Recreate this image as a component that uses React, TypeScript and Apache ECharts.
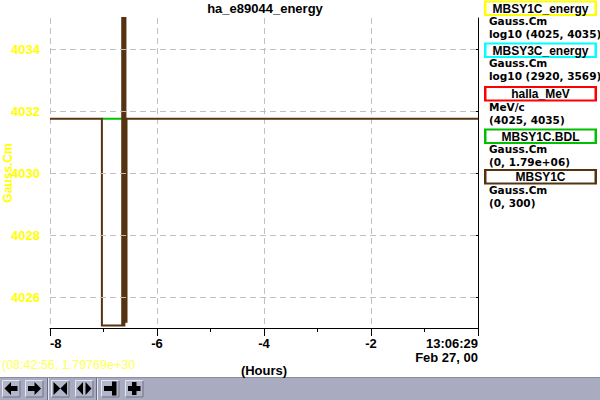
import { useEffect, useRef } from "react";
import * as echarts from "echarts";

// ---- text / axis data ----
const chartTitle = "ha_e89044_energy";
const yAxisName = "Gauss.Cm";
const xAxisName = "(Hours)";
const cursorText = "(08:42:56, 1.79769e+30";
const yMin = 4025;
const yMax = 4035;
const yTicks = [4026, 4028, 4030, 4032, 4034];
const xMin = -8;
const xMax = 0;
const xInterval = 2;
const xEndLabel = "13:06:29\nFeb 27, 00";

// ---- series data (hours relative to end time) ----
const mbsy1cTime = [-8, -7.03, -7.03, -6.65, -6.65, -6.63, -6.63, -6.61, -6.61, -6.59, -6.59, -6.57, -6.57, 0];
const mbsy1cValue = [4031.75, 4031.75, 4025.08, 4025.08, 4036, 4036, 4025.08, 4025.08, 4036, 4036, 4025.2, 4025.2, 4031.75, 4031.75];
const bdlTime = [-7.03, -6.65];
const bdlValue = [4031.75, 4031.75];

// ---- legend panel ----
const legendNames = ["MBSY1C_energy", "MBSY3C_energy", "halla_MeV", "MBSY1C.BDL", "MBSY1C"];
const legendUnits = ["Gauss.Cm", "Gauss.Cm", "MeV/c", "Gauss.Cm", "Gauss.Cm"];
const legendRanges = ["log10 (4025, 4035)", "log10 (2920, 3569)", "(4025, 4035)", "(0, 1.79e+06)", "(0, 300)"];
const legendColors = ["#ffff00", "#00ffff", "#ff0000", "#00c000", "#553311"];
const legendTops = [0.5, 42.5, 86, 128.5, 169];

const FONT = "Liberation Sans, Arial, sans-serif";
const LEGEND_FONT = "DejaVu Sans, sans-serif";
const BROWN = "#553311";
const GREEN = "#00c000";
const GRID_COLOR = "#c0c0c0";

function buildLegend(): any[] {
  const els: any[] = [];
  legendNames.forEach((name, i) => {
    const top = legendTops[i];
    els.push({
      type: "rect",
      shape: { x: 484, y: top, width: 113, height: 15.5 },
      style: { fill: legendColors[i] },
    });
    els.push({
      type: "rect",
      shape: { x: 486.5, y: top + 2, width: 108, height: 11.5 },
      style: { fill: "#ffffff" },
    });
    els.push({
      type: "text",
      x: 540.5,
      y: top + 8,
      style: {
        text: name,
        fill: "#000000",
        font: `bold 12px ${FONT}`,
        textAlign: "center",
        textVerticalAlign: "middle",
      },
    });
    els.push({
      type: "text",
      x: 489,
      y: top + 20.5,
      style: {
        text: legendUnits[i],
        fill: "#000000",
        font: `bold 10.5px ${LEGEND_FONT}`,
        textAlign: "left",
        textVerticalAlign: "middle",
      },
    });
    els.push({
      type: "text",
      x: 489,
      y: top + 33.5,
      style: {
        text: legendRanges[i],
        fill: "#000000",
        font: `bold 10.5px ${LEGEND_FONT}`,
        textAlign: "left",
        textVerticalAlign: "middle",
      },
    });
  });
  return els;
}

function buildToolbar(): any[] {
  const els: any[] = [];
  const top = 377;
  els.push({
    type: "rect",
    shape: { x: 0, y: top, width: 600, height: 23 },
    style: { fill: "#a9acc0" },
  });
  els.push({
    type: "line",
    shape: { x1: 0, y1: top + 0.5, x2: 600, y2: top + 0.5 },
    style: { stroke: "#8a8c9e", lineWidth: 1 },
  });
  const btnXs = [2, 25, 51, 75, 101, 125];
  const by = 380;
  const bw = 18.5;
  const bh = 17.5;
  btnXs.forEach((bx) => {
    els.push({
      type: "rect",
      shape: { x: bx, y: by, width: bw, height: bh },
      style: { fill: "#b3b6ca" },
    });
    els.push({
      type: "polyline",
      shape: { points: [[bx + 0.5, by + bh], [bx + 0.5, by + 0.5], [bx + bw, by + 0.5]] },
      style: { stroke: "#e4e6f0", lineWidth: 1, fill: "none" },
    });
    els.push({
      type: "polyline",
      shape: { points: [[bx + 0.5, by + bh - 0.5], [bx + bw - 0.5, by + bh - 0.5], [bx + bw - 0.5, by + 0.5]] },
      style: { stroke: "#6c6e80", lineWidth: 1, fill: "none" },
    });
  });
  [47.5, 96.5].forEach((sx) => {
    els.push({
      type: "line",
      shape: { x1: sx, y1: 378, x2: sx, y2: 400 },
      style: { stroke: "#6c6e80", lineWidth: 1 },
    });
    els.push({
      type: "line",
      shape: { x1: sx + 1, y1: 378, x2: sx + 1, y2: 400 },
      style: { stroke: "#e4e6f0", lineWidth: 1 },
    });
  });
  const cy = 388.5;
  const black = { fill: "#000000" };
  // left arrow
  els.push({ type: "polygon", shape: { points: [[4.5, cy], [11, cy - 6.5], [11, cy + 6.5]] }, style: black });
  els.push({ type: "rect", shape: { x: 10.5, y: cy - 2.5, width: 7, height: 5 }, style: black });
  // right arrow
  els.push({ type: "polygon", shape: { points: [[41, cy], [34.5, cy - 6.5], [34.5, cy + 6.5]] }, style: black });
  els.push({ type: "rect", shape: { x: 28, y: cy - 2.5, width: 7, height: 5 }, style: black });
  // bowtie
  els.push({ type: "polygon", shape: { points: [[53.5, cy - 6.5], [53.5, cy + 6.5], [60.3, cy]] }, style: black });
  els.push({ type: "polygon", shape: { points: [[67, cy - 6.5], [67, cy + 6.5], [60.3, cy]] }, style: black });
  // split diamond
  els.push({ type: "polygon", shape: { points: [[77, cy], [83, cy - 6.5], [83, cy + 6.5]] }, style: black });
  els.push({ type: "polygon", shape: { points: [[91.5, cy], [85.5, cy - 6.5], [85.5, cy + 6.5]] }, style: black });
  // bar with end
  els.push({ type: "rect", shape: { x: 104, y: cy - 2.5, width: 9, height: 5 }, style: black });
  els.push({ type: "rect", shape: { x: 112, y: cy - 7, width: 4.5, height: 14 }, style: black });
  // plus
  els.push({ type: "rect", shape: { x: 128, y: cy - 2.5, width: 12.5, height: 5 }, style: black });
  els.push({ type: "rect", shape: { x: 132, y: cy - 6.5, width: 4.5, height: 13 }, style: black });
  return els;
}

export default function App() {
  const ref = useRef<HTMLDivElement>(null);

  useEffect(() => {
    if (!ref.current) return;
    const chart = echarts.init(ref.current, undefined, { renderer: "svg" });

    const mbsy1cData = mbsy1cTime.map((t, i) => [t, mbsy1cValue[i]]);
    const bdlData = bdlTime.map((t, i) => [t, bdlValue[i]]);

    chart.setOption({
      animation: false,
      backgroundColor: "#ffffff",
      title: {
        text: chartTitle,
        left: 265,
        top: 2,
        padding: 0,
        textAlign: "center",
        textStyle: { fontFamily: FONT, fontSize: 13, fontWeight: "bold", color: "#000000" },
      },
      grid: { left: 50, right: 122, top: 18, bottom: 72, containLabel: false, outerBoundsMode: "none" },
      xAxis: {
        type: "value",
        min: xMin,
        max: xMax,
        interval: xInterval,
        name: xAxisName,
        nameLocation: "middle",
        nameGap: 36,
        nameMoveOverlap: false,
        nameTextStyle: { fontFamily: FONT, fontSize: 13, fontWeight: "bold", color: "#000000" },
        axisLine: { show: true, lineStyle: { color: "#000000", width: 1 } },
        axisTick: { show: true, length: 8, lineStyle: { color: "#000000" } },
        minorTick: { show: true, splitNumber: 2, length: 4, lineStyle: { color: "#000000" } },
        splitLine: { show: true, lineStyle: { color: GRID_COLOR, type: [6, 4], width: 1 } },
        axisLabel: {
          margin: 8,
          fontFamily: FONT,
          fontSize: 13,
          fontWeight: "bold",
          color: "#000000",
          lineHeight: 14,
          alignMinLabel: "left",
          alignMaxLabel: "right",
          formatter: (v: number) => (v === xMax ? xEndLabel : String(v)),
        },
      },
      yAxis: {
        type: "value",
        min: yMin,
        max: yMax,
        name: yAxisName,
        nameLocation: "middle",
        nameGap: 36,
        nameMoveOverlap: false,
        nameTextStyle: { fontFamily: FONT, fontSize: 12, fontWeight: "bold", color: "#ffff00" },
        axisLine: { show: true, lineStyle: { color: "#000000", width: 1 } },
        axisTick: { show: true, length: 8, customValues: yTicks, lineStyle: { color: "#000000" } },
        splitLine: { show: false },
        axisLabel: {
          margin: 10,
          customValues: yTicks,
          fontFamily: FONT,
          fontSize: 13,
          fontWeight: "bold",
          color: "#ffff00",
          formatter: (v: number) => String(v),
        },
      },
      series: [
        {
          name: "grid",
          type: "line",
          data: [],
          z: 1,
          silent: true,
          markLine: {
            silent: true,
            symbol: "none",
            animation: false,
            label: { show: false },
            lineStyle: { color: GRID_COLOR, type: [6, 4], width: 1 },
            data: yTicks.map((v) => ({ yAxis: v })),
          },
        },
        {
          name: "MBSY1C.BDL",
          type: "line",
          data: bdlData,
          showSymbol: false,
          symbol: "none",
          lineStyle: { color: GREEN, width: 2 },
          z: 3,
        },
        {
          name: "MBSY1C",
          type: "line",
          data: mbsy1cData,
          showSymbol: false,
          symbol: "none",
          clip: true,
          lineStyle: { color: BROWN, width: 2, join: "miter" },
          z: 4,
        },
      ],
      graphic: [
        {
          type: "text",
          x: 2,
          y: 365,
          style: {
            text: cursorText,
            fill: "#ffff55",
            font: `12.5px ${FONT}`,
            textAlign: "left",
            textVerticalAlign: "middle",
          },
        },
        ...buildLegend(),
        ...buildToolbar(),
      ],
    });

    return () => chart.dispose();
  }, []);

  return (
    <div
      ref={ref}
      style={{ position: "fixed", left: 0, top: 0, width: 600, height: 400, background: "#ffffff" }}
    />
  );
}
